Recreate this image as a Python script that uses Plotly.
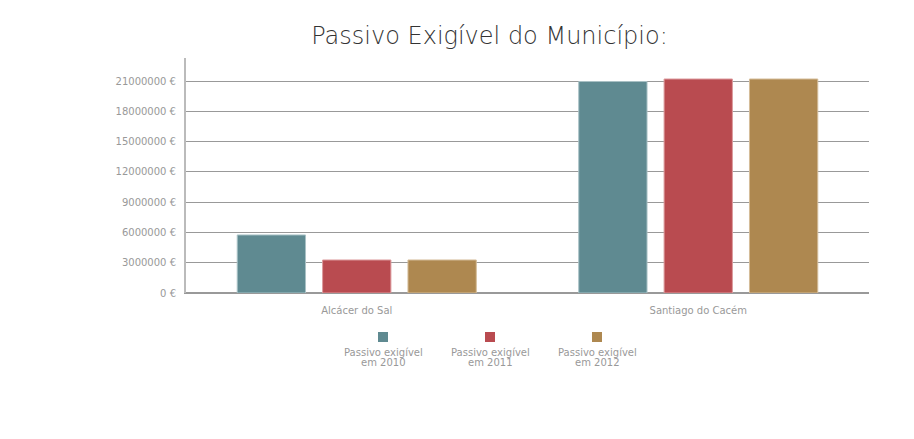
import plotly.graph_objects as go

categories = ["Alcácer do Sal", "Santiago do Cacém"]
series_names = ["Passivo exigível em 2010", "Passivo exigível em 2011", "Passivo exigível em 2012"]
values_2010 = [5750000, 20950000]
values_2011 = [3270000, 21200000]
values_2012 = [3270000, 21200000]
series_values = [values_2010, values_2011, values_2012]
colors = ["#5F8A91", "#B94B50", "#AE8850"]
edge_colors = ["#A9C2C6", "#DC9A9D", "#D4BC98"]
tick_vals = list(range(0, 21000001, 3000000))
tick_text = [f"{v} €" for v in tick_vals]

fig = go.Figure()
for name, vals, c, ec in zip(series_names, series_values, colors, edge_colors):
    fig.add_trace(go.Bar(
        x=categories, y=vals, name=name,
        marker=dict(color=c, line=dict(color=ec, width=1)),
        showlegend=False,
    ))

# Custom legend: swatch above a centred two-line label
L, W, T, H = 186, 683, 58, 235
legend_x = [383, 490, 597]
for name, c, lx in zip(series_names, colors, legend_x):
    px = (lx - L) / W
    fig.add_shape(type="rect", xref="paper", yref="paper",
                  x0=(lx - 5 - L) / W, x1=(lx + 5 - L) / W,
                  y0=(T + H - 342) / H, y1=(T + H - 332) / H,
                  fillcolor=c, line=dict(width=0))
    first, second = name.rsplit(" em ", 1)
    for txt, ly in ((first, 352.5), ("em " + second, 362)):
        fig.add_annotation(text=txt, xref="paper", yref="paper",
                           x=px, y=(T + H - ly) / H,
                           xanchor="center", yanchor="middle", showarrow=False,
                           font=dict(size=10, color="#999999", family="DejaVu Sans"))

fig.update_layout(
    width=914, height=439,
    margin=dict(l=L, r=914 - L - W, t=T, b=439 - T - H),
    paper_bgcolor="white", plot_bgcolor="white",
    title=dict(text="Passivo Exigível do Município:", x=489.5 / 914, xanchor="center",
               y=1 - 36 / 439, yanchor="middle",
               font=dict(size=24, color="#333333", family="DejaVu Sans", weight=200)),
    bargap=0.25, bargroupgap=0.2,
    font=dict(family="DejaVu Sans", color="#999999", size=10),
)
fig.update_yaxes(range=[0, 23280000], tickvals=tick_vals, ticktext=tick_text,
                 showgrid=True, gridcolor="#999999", gridwidth=1,
                 showline=True, linecolor="#BBBBBB", linewidth=2,
                 zeroline=True, zerolinecolor="#999999",
                 ticks="", ticklabelstandoff=6,
                 tickfont=dict(size=10, color="#999999"))
fig.update_xaxes(showline=True, linecolor="#999999", linewidth=1,
                 showgrid=False, ticks="", ticklabelstandoff=8,
                 tickfont=dict(size=10, color="#999999"))

fig.write_html("out.html")
